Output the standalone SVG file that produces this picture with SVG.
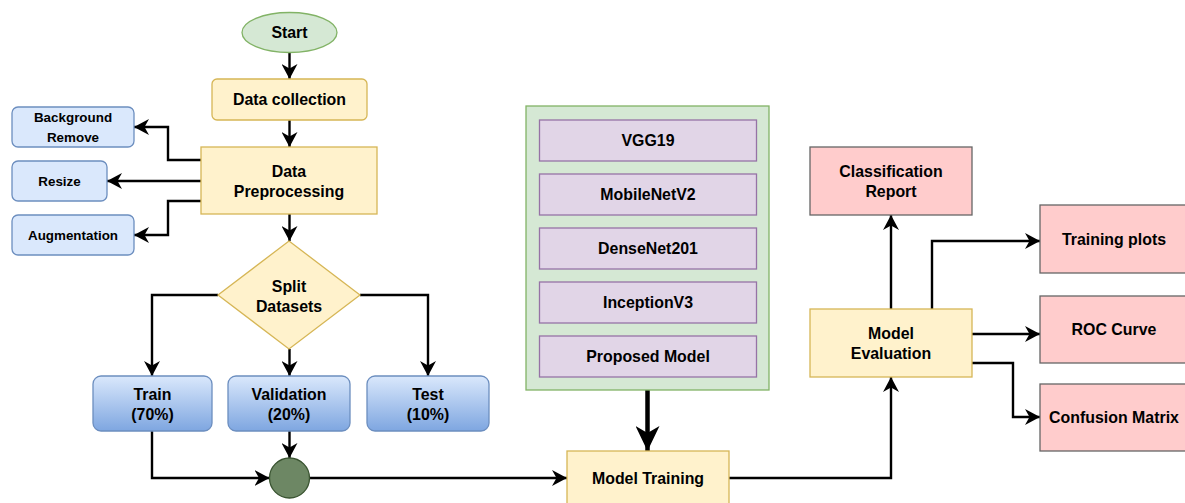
<svg xmlns="http://www.w3.org/2000/svg" width="1185" height="503" viewBox="0 0 1185 503">
<defs>
<style>
text{font-family:"Liberation Sans",Arial,sans-serif;font-weight:bold;font-size:15.9px;fill:#000;text-anchor:middle;dominant-baseline:central}
.sm{font-size:13.4px}
.yel{fill:#fff2cc;stroke:#d6b656;stroke-width:1.3}
.blu{fill:#dae8fc;stroke:#6c8ebf;stroke-width:1.3}
.grad{fill:url(#bg);stroke:#6c8ebf;stroke-width:1.3}
.pur{fill:#e1d5e7;stroke:#9673a6;stroke-width:1.3}
.red{fill:#ffcccc;stroke:#666666;stroke-width:1.3}
.con{fill:none;stroke:#000;stroke-width:2.4;marker-end:url(#arr)}
.thick{fill:none;stroke:#000;stroke-width:4.5;marker-end:url(#arrbig)}
</style>
<linearGradient id="bg" x1="0" y1="0" x2="0" y2="1">
<stop offset="0" stop-color="#dae8fc"/>
<stop offset="1" stop-color="#7ea6e0"/>
</linearGradient>
<marker id="arr" markerUnits="userSpaceOnUse" markerWidth="16" markerHeight="16" viewBox="0 0 16 16" refX="15" refY="8" orient="auto">
<path d="M0,0 L15,8 L0,16 L4.5,8 z" fill="#000"/>
</marker>
<marker id="arrbig" markerUnits="userSpaceOnUse" markerWidth="26" markerHeight="24" viewBox="0 0 26 24" refX="25" refY="12" orient="auto">
<path d="M0,0 L25,12 L0,24 L7,12 z" fill="#000"/>
</marker>
</defs>
<g id="connectors">
<path class="con" d="M289.5,53 V79"/>
<path class="con" d="M289.5,120 V147"/>
<path class="con" d="M201,160 H168 V127 H134"/>
<path class="con" d="M201,181 H107"/>
<path class="con" d="M201,201 H168 V235 H134"/>
<path class="con" d="M289.5,214 V241"/>
<path class="con" d="M218,295 H152 V376"/>
<path class="con" d="M289.5,349 V376"/>
<path class="con" d="M360,295 H428 V376"/>
<path class="con" d="M289.5,431 V458"/>
<path class="con" d="M152,431 V478 H269.5"/>
<path class="con" d="M309.5,478 H567"/>
<path class="thick" d="M647.5,390 V451"/>
<path class="con" d="M729,478 H891 V377"/>
<path class="con" d="M891,309 V215"/>
<path class="con" d="M932,309 V241 H1040"/>
<path class="con" d="M972,334 H1040"/>
<path class="con" d="M972,363 H1013 V417 H1040"/>
</g>
<g id="start"><ellipse cx="289.5" cy="32.5" rx="47.5" ry="20" fill="#d5e8d4" stroke="#82b366" stroke-width="1.3"/><text x="289.5" y="32.5">Start</text></g>
<g id="data-collection"><rect class="yel" x="212" y="79" width="155" height="41" rx="5"/><text x="289.5" y="99.5">Data collection</text></g>
<g id="data-preprocessing"><rect class="yel" x="201" y="147" width="176" height="67"/><text x="289" y="171">Data</text><text x="289" y="191">Preprocessing</text></g>
<g id="background-remove"><rect class="blu" x="12" y="107" width="122" height="40" rx="6"/><text class="sm" x="73" y="117.5">Background</text><text class="sm" x="73" y="137.5">Remove</text></g>
<g id="resize"><rect class="blu" x="12" y="161" width="95" height="40" rx="6"/><text class="sm" x="59.5" y="181">Resize</text></g>
<g id="augmentation"><rect class="blu" x="12" y="215" width="122" height="40" rx="6"/><text class="sm" x="73" y="235">Augmentation</text></g>
<g id="split-datasets"><path d="M289,241 L360,295 L289,349 L218,295 z" fill="#fff2cc" stroke="#d6b656" stroke-width="1.3"/><text x="289" y="286">Split</text><text x="289" y="306">Datasets</text></g>
<g id="train"><rect class="grad" x="93" y="376" width="119" height="55" rx="8"/><text x="152.5" y="394">Train</text><text x="152.5" y="414.5">(70%)</text></g>
<g id="validation"><rect class="grad" x="228" y="376" width="122" height="55" rx="8"/><text x="289" y="394">Validation</text><text x="289" y="414.5">(20%)</text></g>
<g id="test"><rect class="grad" x="367" y="376" width="122" height="55" rx="8"/><text x="428" y="394">Test</text><text x="428" y="414.5">(10%)</text></g>
<g id="merge"><circle cx="289.5" cy="478" r="20" fill="#6d8764" stroke="#3a5431" stroke-width="1.3"/></g>
<g id="models">
<rect x="526" y="106" width="243" height="284" fill="#d5e8d4" stroke="#82b366" stroke-width="1.3"/>
<g id="vgg19"><rect class="pur" x="539.5" y="120" width="217" height="41"/><text x="648" y="140.5">VGG19</text></g>
<g id="mobilenetv2"><rect class="pur" x="539.5" y="174" width="217" height="41"/><text x="648" y="194.5">MobileNetV2</text></g>
<g id="densenet201"><rect class="pur" x="539.5" y="228" width="217" height="41"/><text x="648" y="248.5">DenseNet201</text></g>
<g id="inceptionv3"><rect class="pur" x="539.5" y="282" width="217" height="41"/><text x="648" y="302.5">InceptionV3</text></g>
<g id="proposed-model"><rect class="pur" x="539.5" y="336" width="217" height="41"/><text x="648" y="356.5">Proposed Model</text></g>
</g>
<g id="model-training"><rect class="yel" x="567" y="451" width="162" height="55"/><text x="648" y="478">Model Training</text></g>
<g id="model-evaluation"><rect class="yel" x="810" y="309" width="162" height="68"/><text x="891" y="333">Model</text><text x="891" y="353">Evaluation</text></g>
<g id="classification-report"><rect class="red" x="810" y="147" width="162" height="68"/><text x="891" y="171.5">Classification</text><text x="891" y="191.5">Report</text></g>
<g id="training-plots"><rect class="red" x="1040" y="205" width="148" height="68"/><text x="1114" y="239">Training plots</text></g>
<g id="roc-curve"><rect class="red" x="1040" y="296" width="148" height="67"/><text x="1114" y="329">ROC Curve</text></g>
<g id="confusion-matrix"><rect class="red" x="1040" y="384" width="148" height="67"/><text x="1114" y="417">Confusion Matrix</text></g>
</svg>
